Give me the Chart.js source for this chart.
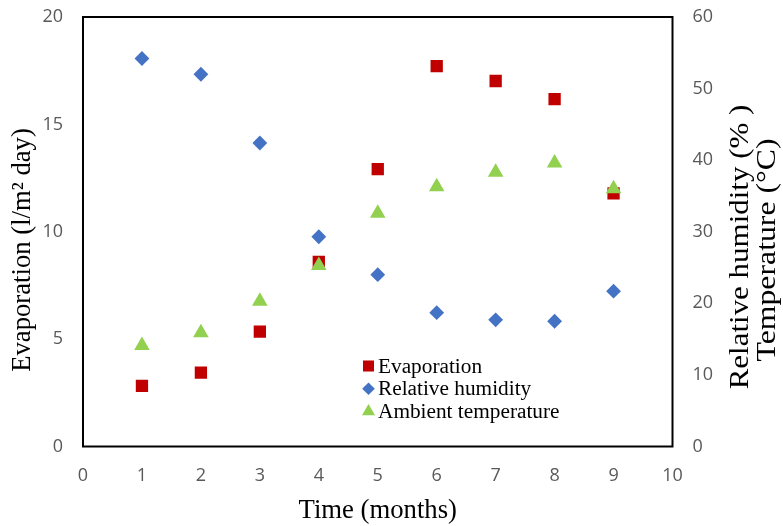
<!DOCTYPE html>
<html>
<head>
<meta charset="utf-8">
<script src="https://cdn.jsdelivr.net/npm/chart.js@4/dist/chart.umd.min.js"></script>
<style>
  body { margin: 0; background: #fff; }
  #wrap { width: 783px; height: 526px; position: relative; }
</style>
</head>
<body>
<div id="wrap"><canvas id="evapChart"></canvas></div>
<script>
// data
const months = [1, 2, 3, 4, 5, 6, 7, 8, 9];
const evaporation = [2.82, 3.44, 5.35, 8.6, 12.92, 17.71, 17.02, 16.18, 11.79];
const humidity = [54.2, 52.0, 42.4, 29.3, 24.0, 18.7, 17.7, 17.5, 21.7];
const temperature = [14.1, 15.9, 20.3, 25.3, 32.6, 36.3, 38.3, 39.6, 36.0];
const xTicks = [0, 10, 1];     // min, max, step
const leftTicks = [0, 20, 5];
const rightTicks = [0, 60, 10];

const serif = "'Liberation Serif', 'Times New Roman', serif";
const tickFont = { family: "'Open Sans', sans-serif", size: 18 };
const tickColor = '#595959';

const toXY = vals => months.map((m, i) => ({ x: m, y: vals[i] }));

// fixed scale sizes so the plot box lands where it is in the picture
const fixSize = (w, h) => s => {
    if (w !== null) s.width = w;
    if (h !== null) s.height = h;
    s.paddingTop = 0;
    s.paddingBottom = 0;
    s.paddingLeft = 0;
    s.paddingRight = 0;
};

// box round the plot area + axis titles
const framePlugin = {
    id: 'frame',
    afterDraw(chart) {
        const { ctx, chartArea: a } = chart;
        ctx.save();
        ctx.strokeStyle = '#000';
        ctx.lineWidth = 2;
        ctx.strokeRect(a.left, a.top, a.right - a.left, a.bottom - a.top);

        ctx.fillStyle = '#000';
        ctx.font = '26.7px ' + serif;
        ctx.textAlign = 'center';
        ctx.textBaseline = 'alphabetic';
        ctx.fillText('Time (months)', (a.left + a.right) / 2, 518);

        // rotated titles, stretch = glyph widening along the baseline
        const rotated = (text, x, y, stretch) => {
            ctx.save();
            ctx.translate(x, y);
            ctx.rotate(-Math.PI / 2);
            ctx.scale(stretch, 1);
            ctx.textBaseline = 'middle';
            ctx.fillText(text, 0, 0);
            ctx.restore();
        };
        rotated('Evaporation (l/m\u00B2 day)', 23, 250, 1);
        rotated('Relative humidity (% )', 741, 247, 1.16);
        rotated('Temperature (\u00B0C)', 768, 250, 1.19);
        ctx.restore();
    }
};

// legend drawn inside the plot
const innerLegend = {
    id: 'innerLegend',
    afterDraw(chart) {
        const { ctx } = chart;
        const x0 = 368.5, y0 = 366, rowH = 22.7;
        ctx.save();
        ctx.font = '21.3px ' + serif;
        ctx.textBaseline = 'middle';
        ctx.textAlign = 'left';
        chart.data.datasets.forEach((ds, i) => {
            const y = y0 + i * rowH;
            ctx.fillStyle = ds.backgroundColor;
            ctx.strokeStyle = ds.backgroundColor;
            Chart.helpers.drawPoint(ctx, {
                pointStyle: ds.pointStyle,
                radius: ds.legendRadius,
                rotation: 0,
                borderWidth: 0
            }, x0, y);
            ctx.fillStyle = '#000';
            ctx.fillText(ds.label, x0 + 9.5, y + 1);
        });
        ctx.restore();
    }
};

new Chart(document.getElementById('evapChart'), {
    type: 'scatter',
    data: {
        datasets: [{
            label: 'Evaporation',
            data: toXY(evaporation),
            yAxisID: 'yLeft',
            pointStyle: 'rect',
            pointRadius: 8.7,
            legendRadius: 7.8,
            backgroundColor: '#C00000',
            borderColor: '#C00000',
            borderWidth: 0,
            order: 3
        }, {
            label: 'Relative humidity',
            data: toXY(humidity),
            yAxisID: 'yRight',
            pointStyle: 'rectRot',
            pointRadius: 7.4,
            legendRadius: 6.3,
            backgroundColor: '#4472C4',
            borderColor: '#4472C4',
            borderWidth: 0,
            order: 2
        }, {
            label: 'Ambient temperature',
            data: toXY(temperature),
            yAxisID: 'yRight',
            pointStyle: 'triangle',
            pointRadius: 9,
            legendRadius: 7.5,
            backgroundColor: '#92D050',
            borderColor: '#92D050',
            borderWidth: 0,
            order: 1
        }]
    },
    options: {
        responsive: true,
        maintainAspectRatio: false,
        animation: false,
        layout: { padding: { top: 17, left: 0, right: 0, bottom: 0 } },
        plugins: {
            legend: { display: false },
            tooltip: { enabled: false }
        },
        scales: {
            x: {
                type: 'linear',
                min: xTicks[0], max: xTicks[1],
                grid: { display: false, drawTicks: false },
                border: { display: false },
                ticks: { stepSize: xTicks[2], color: tickColor, font: tickFont, padding: 19 },
                afterFit: fixSize(null, 79.5)
            },
            yLeft: {
                type: 'linear',
                position: 'left',
                min: leftTicks[0], max: leftTicks[1],
                grid: { display: false, drawTicks: false },
                border: { display: false },
                ticks: { stepSize: leftTicks[2], color: tickColor, font: tickFont, padding: 20 },
                afterFit: fixSize(83, null)
            },
            yRight: {
                type: 'linear',
                position: 'right',
                min: rightTicks[0], max: rightTicks[1],
                grid: { display: false, drawTicks: false },
                border: { display: false },
                ticks: { stepSize: rightTicks[2], color: tickColor, font: tickFont, padding: 20 },
                afterFit: fixSize(110.5, null)
            }
        }
    },
    plugins: [framePlugin, innerLegend]
});
</script>
</body>
</html>
